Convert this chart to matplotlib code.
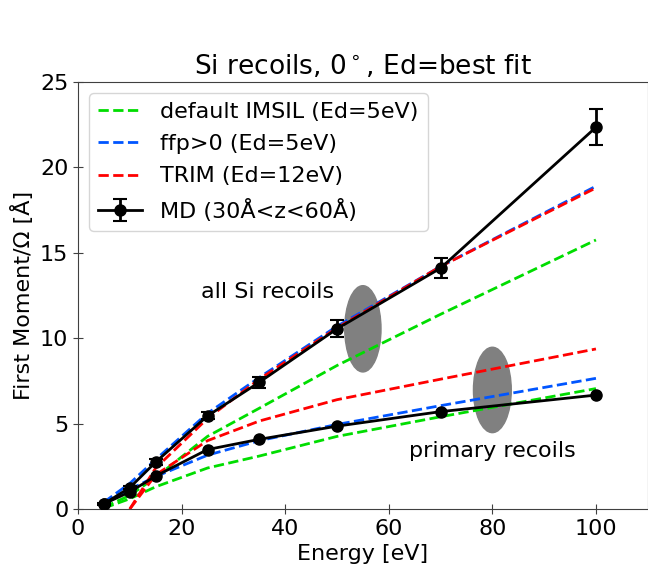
import numpy as np
import matplotlib
matplotlib.use('Agg')
import matplotlib.pyplot as plt
from matplotlib.patches import Ellipse

# Energies [eV]
energy = [5, 10, 15, 25, 35, 50, 70, 100]

# MD results (first moment / Omega, Angstrom)
md_all = [0.3, 1.25, 2.75, 5.45, 7.42, 10.55, 14.1, 22.35]
md_all_err = [0.05, 0.1, 0.15, 0.2, 0.33, 0.5, 0.6, 1.05]
md_primary = [0.3, 1.0, 1.93, 3.48, 4.08, 4.85, 5.7, 6.67]

# IMSIL default (Ed=5eV)
imsil_all = [0.1, 0.8, 1.85, 4.25, 5.9, 8.4, 11.4, 15.75]
imsil_primary = [0.05, 0.6, 1.3, 2.4, 3.1, 4.25, 5.4, 7.05]

# ffp>0 (Ed=5eV)
ffp_all = [0.4, 1.5, 2.9, 5.6, 7.7, 10.7, 14.2, 18.9]
ffp_primary = [0.3, 1.15, 1.9, 3.15, 4.0, 4.95, 6.05, 7.65]

# TRIM (Ed=12eV)
trim_energy = [10, 15, 25, 35, 50, 70, 100]
trim_all = [0.0, 2.4, 5.3, 7.6, 10.6, 14.2, 18.8]
trim_primary = [0.0, 2.0, 4.0, 5.15, 6.4, 7.6, 9.37]

GREEN = '#00dd00'
BLUE = '#0055ff'
RED = '#ff0000'
FS = 16

fig = plt.figure(figsize=(6.48, 5.73), dpi=100)
ax = fig.add_axes([0.1204, 0.1117, 0.8792, 0.7452])

ax.add_patch(Ellipse((55, 10.55), 7.0, 5.05, color='#808080', zorder=1))
ax.add_patch(Ellipse((80, 6.97), 7.3, 5.0, color='#808080', zorder=1))

ax.plot(energy, imsil_all, '--', color=GREEN, lw=2, label='default IMSIL (Ed=5eV)', zorder=2)
ax.plot(energy, imsil_primary, '--', color=GREEN, lw=2, zorder=2)
ax.plot(energy, ffp_all, '--', color=BLUE, lw=2, label='ffp>0 (Ed=5eV)', zorder=2)
ax.plot(energy, ffp_primary, '--', color=BLUE, lw=2, zorder=2)
ax.plot(trim_energy, trim_all, '--', color=RED, lw=2, label='TRIM (Ed=12eV)', zorder=2)
ax.plot(trim_energy, trim_primary, '--', color=RED, lw=2, zorder=2)

ax.errorbar(energy, md_all, yerr=md_all_err, fmt='-o', color='black', lw=2,
            ms=8, capsize=5, elinewidth=2, capthick=1.5,
            label='MD (30Å<z<60Å)', zorder=3)
ax.plot(energy, md_primary, '-o', color='black', lw=2, ms=8, zorder=3)

ax.text(36.5, 12.7, 'all Si recoils', fontsize=FS, ha='center', va='center')
ax.text(80, 3.4, 'primary recoils', fontsize=FS, ha='center', va='center')

ax.set_xlim(0, 110)
ax.set_ylim(0, 25)
ax.set_xticks([0, 20, 40, 60, 80, 100])
ax.set_yticks([0, 5, 10, 15, 20, 25])
ax.tick_params(direction='inout', labelsize=FS, length=7, color='#404040')
for s in ax.spines.values():
    s.set_color('#404040')

ax.set_xlabel('Energy [eV]', fontsize=FS)
ax.set_ylabel('First Moment/Ω [Å]', fontsize=FS)
ax.set_title('Si recoils, 0$^\\circ$, Ed=best fit', fontsize=19)

ax.legend(loc='upper left', fontsize=FS, handlelength=2.0, labelspacing=0.55,
          borderaxespad=0.5)

fig.savefig('out.png', dpi=100)
